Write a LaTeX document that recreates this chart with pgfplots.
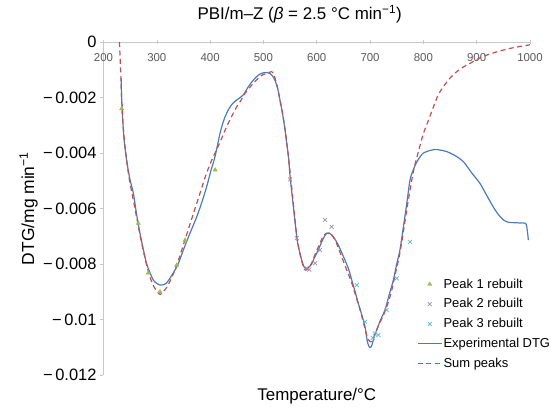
\documentclass[border=0pt]{standalone}
\usepackage{pgfplots}
\pgfplotsset{compat=1.18}
\usepackage{fontspec}
\setmainfont{Liberation Sans}
\definecolor{expblue}{HTML}{4B7CBA}
\definecolor{sumred}{HTML}{C0504D}
\definecolor{pkgreen}{HTML}{9BBB59}
\definecolor{pkgray}{HTML}{9C8FB0}
\definecolor{pkcyan}{HTML}{5DB8D0}
\definecolor{axgray}{HTML}{C8C8C8}
\definecolor{tickgray}{HTML}{5A5A5A}
\pgfplotsset{
  markleg/.style={legend image code/.code={\path[draw=none,fill=none] (0bp,-1bp) rectangle (24bp,1bp); \draw[##1] plot coordinates {(12bp,0bp)};}},
  lineleg/.style={legend image code/.code={\draw[##1] (0bp,0bp) -- (24bp,0bp);}},
}
\begin{document}
\begin{tikzpicture}
\useasboundingbox (-103.5bp,-35bp) rectangle (447.5bp,375bp);
\begin{axis}[
  at={(0,0)}, anchor=south west,
  scale only axis, width=426.5bp, height=333bp,
  xmin=200, xmax=1000, ymin=-0.012, ymax=0,
  axis x line=middle, axis y line=left,
  axis line style={draw=axgray, line width=0.6bp, -},
  hide obscured x ticks=false, hide obscured y ticks=false,
  scaled y ticks=false, scaled x ticks=false,
  xtick={200,300,400,500,600,700,800,900,1000},
  xticklabels={200,300,400,500,600,700,800,900,1000},
  ytick={-0.012,-0.01,-0.008,-0.006,-0.004,-0.002,0},
  yticklabels={−\,0.012,−\,0.01,−\,0.008,−\,0.006,−\,0.004,−\,0.002,0},
  tick style={draw=axgray, line width=0.6bp},
  major tick length=3.5bp,
  xtick align=center, ytick align=outside,
  x tick label style={font=\fontsize{11.5}{13}\selectfont, text=tickgray, yshift=-6bp},
  y tick label style={font=\fontsize{16.5}{19}\selectfont},
  title={PBI/m–Z ({\itshape β} = 2.5 °C min\textsuperscript{−1})},
  title style={font=\fontsize{17}{20}\selectfont, at={(axis description cs:0.46,1)}, anchor=center, yshift=22bp},
  xlabel={Temperature/°C},
  every axis x label/.style={at={(axis description cs:0.5,0)}, anchor=center, yshift=-21bp, font=\fontsize{17}{20}\selectfont},
  ylabel={DTG/mg min\textsuperscript{−1}},
  every axis y label/.style={at={(axis description cs:0,0.5)}, xshift=-75bp, rotate=90, anchor=center, font=\fontsize{17.5}{20}\selectfont},
  legend style={at={(axis description cs:0.735,0.293)}, anchor=north west, draw=none, fill=none,
    font=\fontsize{13}{15}\selectfont, row sep=6.5bp, inner sep=0bp,
    nodes={inner sep=1.2bp}},
  legend cell align=left,
]
% Peak 1 rebuilt
\addplot[only marks, mark=triangle*, mark size=2.4bp, color=pkgreen, markleg]
 coordinates {(234,-0.0024) (265.3,-0.00653) (284,-0.00832) (306,-0.0090) (337.3,-0.00804) (353,-0.00714) (409.4,-0.00461)};
\addlegendentry{Peak 1 rebuilt}
% Peak 2 rebuilt
\addplot[only marks, mark=x, mark size=2.8bp, color=pkgray, line width=0.7bp, markleg]
 coordinates {(550,-0.00495) (562.5,-0.00707) (581,-0.00815) (586,-0.0082) (597,-0.00797) (606,-0.0075) (615.6,-0.00641) (628,-0.00666)};
\addlegendentry{Peak 2 rebuilt}
% Peak 3 rebuilt
\addplot[only marks, mark=x, mark size=2.8bp, color=pkcyan, line width=0.7bp, markleg]
 coordinates {(675,-0.00876) (690.6,-0.01008) (705,-0.01066) (709,-0.0105) (715.6,-0.01056) (731,-0.00966) (750,-0.00852) (775,-0.0072)};
\addlegendentry{Peak 3 rebuilt}
% Experimental DTG
\addplot[color=expblue, line width=1.2bp, smooth, lineleg]
 coordinates {
 (233,-0.0013) (234,-0.0020) (236,-0.0028) (239,-0.0036) (243,-0.0042) (249,-0.0049)
 (256,-0.00545) (262,-0.0062) (268.5,-0.0069) (275,-0.0075) (281,-0.0080) (287,-0.0083)
 (293.4,-0.00858) (300,-0.0087) (306,-0.00876) (312,-0.00875) (318.6,-0.00868) (325,-0.0085)
 (331,-0.00832) (340,-0.0080) (349.7,-0.0075) (362,-0.0069) (374.9,-0.0063) (384,-0.0058)
 (393.6,-0.00521) (402,-0.0046) (409.2,-0.00413) (418.6,-0.00329) (426,-0.0028) (434,-0.00245)
 (442,-0.00222) (450,-0.00209) (462,-0.00191) (471.7,-0.00161) (480,-0.0014) (487,-0.00125)
 (494,-0.00115) (500,-0.00111) (506,-0.0011) (512,-0.00113) (517,-0.00122) (522,-0.0014)
 (527,-0.0017) (531,-0.00209) (536,-0.0026) (540.5,-0.00317) (544,-0.0037) (547,-0.00413)
 (550,-0.00485) (556,-0.0059) (562.5,-0.00702) (567,-0.0075) (571.8,-0.00786) (576,-0.0081)
 (581,-0.00816) (586,-0.0081) (590.6,-0.0080) (595,-0.0078) (600,-0.00761) (605,-0.0074)
 (609.4,-0.0072) (614,-0.00702) (618.8,-0.00689) (623,-0.00688) (628,-0.00695) (634,-0.0071)
 (640.5,-0.00732) (647,-0.0076) (653,-0.00786) (660,-0.0082) (665.7,-0.00858) (672,-0.0090)
 (678,-0.00942) (684,-0.0098) (690.6,-0.01026) (695,-0.0108) (699,-0.0110) (703,-0.01095)
 (708,-0.0106) (712.6,-0.01038) (720,-0.0100) (728,-0.00966) (736,-0.0091) (743.7,-0.00858)
 (750,-0.0080) (756,-0.0075) (763,-0.0066) (769,-0.0058) (775,-0.00497) (781,-0.00461)
 (787,-0.00435) (794,-0.00413) (800,-0.0040) (806,-0.00395) (814,-0.0039) (822,-0.00387)
 (833,-0.0039) (844,-0.00395) (860,-0.0041) (875,-0.00431) (890,-0.0047) (906,-0.00509)
 (918,-0.0055) (931,-0.00594) (940,-0.0062) (950,-0.00641) (960,-0.0065) (969,-0.00651)
 (980,-0.00652) (991,-0.00653) (994,-0.00666) (997,-0.00714)};
\addlegendentry{Experimental DTG}
% Sum peaks
\addplot[color=sumred, line width=1.2bp, dash pattern=on 5bp off 3.5bp, smooth, lineleg]
 coordinates {
 (230,0) (231,-0.0005) (232.5,-0.0012) (234,-0.0020) (236,-0.0028) (239,-0.0035) (243,-0.0042)
 (248,-0.0049) (255,-0.0056) (262,-0.0063) (270,-0.0071) (278,-0.0078) (286,-0.0084) (294,-0.0088)
 (301,-0.0090) (306,-0.0091) (312,-0.0090) (320,-0.0088) (330,-0.0084) (340,-0.0079) (350,-0.0073)
 (360,-0.0067) (370,-0.0061) (381,-0.00545) (392,-0.0048) (402,-0.0043) (412,-0.00389) (421,-0.0035)
 (431,-0.00305) (440,-0.0027) (450,-0.00233) (458,-0.0021) (465.5,-0.00185) (476,-0.0016) (487,-0.00137)
 (497,-0.0012) (506,-0.00113) (515.6,-0.00107) (520,-0.0012) (526,-0.0016) (531,-0.0021) (536,-0.0026)
 (541,-0.0032) (546,-0.0040) (550,-0.0047) (556,-0.0058) (562.5,-0.0070) (567,-0.0075) (572,-0.0079)
 (577,-0.0082) (582,-0.0082) (587,-0.0081) (592,-0.0079) (598,-0.0076) (605,-0.0073) (612,-0.0070)
 (618,-0.0069) (624,-0.0069) (630,-0.0070) (636,-0.0072) (642,-0.0075) (650,-0.0079) (658,-0.0083)
 (666,-0.0087) (674,-0.0092) (682,-0.0097) (690,-0.0103) (696,-0.0107) (702,-0.0108) (708,-0.0106)
 (716,-0.0102) (724,-0.0099) (732,-0.0095) (740,-0.0090) (748,-0.0083) (755,-0.0077) (762,-0.0069)
 (770,-0.0059) (781,-0.0047) (790,-0.0040) (800,-0.0033) (810,-0.0028) (819,-0.00233) (828,-0.0019)
 (837.5,-0.00161) (850,-0.0013) (862.6,-0.00107) (875,-0.0009) (887.6,-0.00077) (903,-0.0006)
 (919,-0.00047) (935,-0.00037) (950,-0.00029) (970,-0.0002) (987.6,-0.00014) (1000,-0.0001)};
\addlegendentry{Sum peaks}
\end{axis}
\end{tikzpicture}
\end{document}
